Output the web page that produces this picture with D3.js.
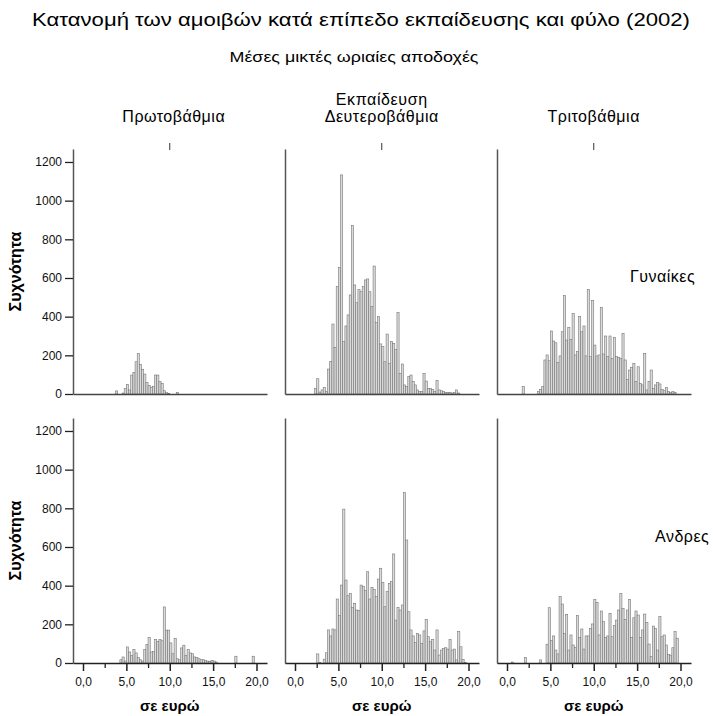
<!DOCTYPE html>
<html>
<head>
<meta charset="utf-8">
<script src="https://cdn.jsdelivr.net/npm/d3@7"></script>
<style>
  body { margin: 0; background: #fff; }
  svg { font-family: "Liberation Sans", Arial, sans-serif; }
</style>
</head>
<body>
<svg width="713" height="716"></svg>
<script>
// bins of 0,25 euro from 0 to 20 (80 bins)
var binWidth = 0.25;
var levels = ["Πρωτοβάθμια", "Δευτεροβάθμια", "Τριτοβάθμια"];
var sexes = ["Γυναίκες", "Ανδρες"];
var yTicks = [0, 200, 400, 600, 800, 1000, 1200];
var xTicks = [0, 5, 10, 15, 20];
var xMinor = [2.5, 7.5, 12.5, 17.5];

var primF = [0,0,0,0,0,0,0,0,0,0,0,0,0,0,0,
  16,0,0,5,29,50,21,98,112,167,209,153,128,103,59,45,35,40,98,98,64,55,17,7,3,0,0,0,8,
  0,0,0,0,0,0,0,0,0,0,0,0,0,0,0,0,0,0,0,0,0,0,0,0,0,0,0,0,0,0,0,0,0,0,0,0];
var secF = [0,0,0,0,0,0,0,0,0,
  29,79,10,21,34,12,129,169,362,241,555,655,1133,
  271,352,409,512,871,564,472,541,529,555,590,595,529,452,662,369,400,259,245,167,
  310,159,271,262,231,421,107,155,47,38,90,98,64,47,21,12,12,107,67,29,29,24,12,69,
  21,17,14,9,7,7,5,7,21,5,0,0,0,0];
var terF = [0,0,0,0,0,0,0,38,0,0,0,0,0,0,
  12,24,38,176,202,172,326,274,265,162,197,322,509,279,345,283,417,202,219,400,
  322,352,197,541,193,483,253,197,202,448,207,300,193,300,184,293,193,190,184,314,
  176,76,124,138,159,64,141,55,47,210,21,64,124,29,47,59,52,24,17,34,12,7,12,7,0,0];
var primM = [0,0,0,0,0,0,0,0,0,0,0,0,0,0,0,0,0,
  17,31,10,83,57,40,69,52,28,17,10,69,95,131,57,60,121,112,121,115,290,170,170,104,48,
  126,22,17,78,92,40,69,52,48,31,28,22,17,17,14,10,8,14,10,5,
  0,0,0,0,0,0,0,0,35,0,0,0,0,0,0,0,35,0];
var secM = [0,0,0,0,0,0,0,0,0,0,
  47,3,0,20,53,171,140,176,171,331,245,403,796,429,348,360,288,309,274,271,403,395,
  374,472,331,391,381,343,434,490,417,291,369,412,421,564,222,288,274,300,881,636,
  265,171,140,107,153,145,102,166,226,136,110,122,67,171,41,67,76,79,72,122,67,72,
  16,162,84,19,3,0];
var terM = [0,0,5,0,0,0,0,0,28,0,0,0,0,0,0,16,0,0,
  97,286,116,140,67,47,343,305,153,252,67,145,93,81,245,133,176,72,140,140,179,202,
  329,314,145,269,214,131,140,257,136,193,222,274,360,283,226,274,329,133,234,269,
  248,133,171,253,210,98,34,191,178,67,240,136,145,93,45,41,79,162,128,0];

var counts = [[primF, secF, terF], [primM, secM, terM]];

var svg = d3.select("svg");
var panelLeft = 73, panelStep = 212, panelWidth = 194;
var rowBase = [394, 663];
var plotHeight = 245;

var comma = function(d) { return d3.format(".1f")(d).replace(".", ","); };

svg.append("text")
    .attr("x", 361).attr("y", 26)
    .attr("text-anchor", "middle")
    .attr("font-size", 18)
    .attr("textLength", 658).attr("lengthAdjust", "spacingAndGlyphs")
    .text("Κατανομή των αμοιβών κατά επίπεδο εκπαίδευσης και φύλο (2002)");

svg.append("text")
    .attr("x", 354).attr("y", 62)
    .attr("text-anchor", "middle")
    .attr("font-size", 14)
    .attr("textLength", 249).attr("lengthAdjust", "spacingAndGlyphs")
    .text("Μέσες μικτές ωριαίες αποδοχές");

levels.forEach(function(level, c) {
  var left = panelLeft + c * panelStep;
  var x = d3.scaleLinear()
      .domain([-10 / 8.675, (panelWidth - 10) / 8.675])
      .range([left, left + panelWidth]);

  if (c == 1) {
    svg.append("text")
        .attr("x", x(10)).attr("y", 105)
        .attr("text-anchor", "middle")
        .attr("font-size", 16)
        .attr("letter-spacing", 0.6)
        .text("Εκπαίδευση");
  }
  svg.append("text")
      .attr("x", x(10) + (c == 0 ? 4 : 0)).attr("y", 122)
      .attr("text-anchor", "middle")
      .attr("font-size", 16)
      .attr("letter-spacing", 0.5)
      .text(level);
  svg.append("line")
      .attr("x1", x(10)).attr("x2", x(10))
      .attr("y1", 143).attr("y2", 150)
      .attr("stroke", "#333").attr("stroke-width", 1);

  sexes.forEach(function(sex, r) {
    var base = rowBase[r];
    var y = d3.scaleLinear()
        .domain([0, plotHeight / 0.19335])
        .range([base, base - plotHeight]);
    var g = svg.append("g");

    var data = counts[r][c].map(function(v, i) { return {x0: i * binWidth, v: v}; })
        .filter(function(d) { return d.v > 0; });

    g.selectAll("rect")
      .data(data)
      .enter().append("rect")
        .attr("x", function(d) { return x(d.x0); })
        .attr("y", function(d) { return y(d.v); })
        .attr("width", x(binWidth) - x(0))
        .attr("height", function(d) { return base - y(d.v); })
        .attr("fill", "#dadada")
        .attr("stroke", "#777")
        .attr("stroke-width", 0.6);

    // y axis
    var yAxis = g.append("g")
        .attr("transform", "translate(" + left + ",0)")
        .call(c == 0
          ? d3.axisLeft(y).tickValues(yTicks).tickSize(8).tickSizeOuter(0).tickFormat(d3.format("d"))
          : d3.axisLeft(y).tickValues([]).tickSizeOuter(0));
    yAxis.select(".domain").attr("stroke", "#555").attr("stroke-width", 1.5);
    yAxis.selectAll(".tick line").attr("stroke", "#222").attr("stroke-width", 1.3);
    yAxis.selectAll(".tick text")
        .attr("font-size", 12)
        .attr("font-family", "\"Liberation Sans\", Arial, sans-serif")
        .attr("fill", "#111")
        .attr("x", -11);

    // x axis / baseline
    var xAxis = g.append("g")
        .attr("transform", "translate(0," + base + ")");
    if (r == 1) {
      xAxis.call(d3.axisBottom(x).tickValues(xTicks).tickSize(8).tickSizeOuter(0).tickFormat(comma));
      xAxis.selectAll(".tick text")
          .attr("font-size", 12)
          .attr("font-family", "\"Liberation Sans\", Arial, sans-serif")
          .attr("fill", "#111")
          .attr("y", 14);
      var minor = g.append("g")
          .attr("transform", "translate(0," + base + ")")
          .call(d3.axisBottom(x).tickValues(xMinor).tickSize(5).tickFormat(""));
      minor.select(".domain").remove();
      minor.selectAll(".tick line").attr("stroke", "#222").attr("stroke-width", 1.3);
      xAxis.selectAll(".tick line").attr("stroke", "#222").attr("stroke-width", 1.5);
      xAxis.select(".domain").attr("stroke", "#222").attr("stroke-width", 1.5);

      svg.append("text")
          .attr("x", x(10)).attr("y", 711)
          .attr("text-anchor", "middle")
          .attr("font-size", 15)
          .attr("font-weight", "bold")
          .text("σε ευρώ");
    } else {
      xAxis.call(d3.axisBottom(x).tickValues([]).tickSizeOuter(0));
      xAxis.select(".domain").attr("stroke", "#444").attr("stroke-width", 1.3);
    }

    if (c == 0) {
      svg.append("text")
          .attr("transform", "translate(21," + (base - plotHeight / 2) + ") rotate(-90)")
          .attr("text-anchor", "middle")
          .attr("font-size", 16)
          .attr("font-weight", "bold")
          .text("Συχνότητα");
    }
    if (c == 2) {
      svg.append("text")
          .attr("x", r == 0 ? 630 : 655).attr("y", r == 0 ? 282 : 542)
          .attr("font-size", 16)
          .attr("letter-spacing", 0.5)
          .text(sex);
    }
  });
});
</script>
</body>
</html>
